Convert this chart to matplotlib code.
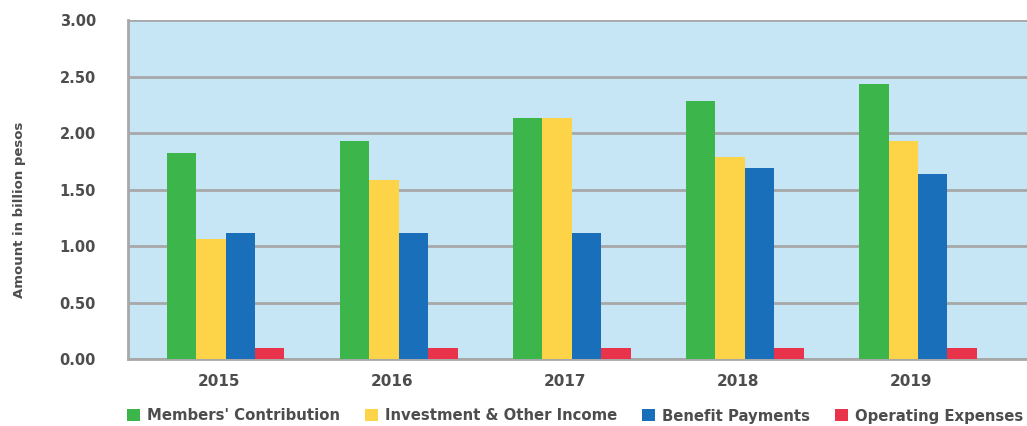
import numpy as np
import matplotlib
matplotlib.use("Agg")
from matplotlib import pyplot as plt
from matplotlib.patches import Patch


years        = ['2015', '2016', '2017', '2018', '2019']
contribution = [1.83, 1.93, 2.14, 2.29, 2.44]
investment   = [1.06, 1.59, 2.14, 1.79, 1.93]
benefits     = [1.12, 1.12, 1.12, 1.69, 1.64]
expenses     = [0.10, 0.10, 0.10, 0.10, 0.10]

series_names = ["Members' Contribution", "Investment & Other Income",
                "Benefit Payments", "Operating Expenses"]
colors       = ['#3cb54a', '#fdd347', '#1a6fba', '#e8334a']

txt_col = '#4d4d4d'
plt.rcParams['font.family'] = ['DejaVu Sans']

fig = plt.figure(figsize=(10.27, 4.26), dpi=100)
ax  = fig.add_axes([0.1246, 0.157, 0.8754, 0.795])
ax.set_facecolor('#c6e6f5')

x  = np.arange(len(years))
bw = 0.17
for k, vals in enumerate([contribution, investment, benefits, expenses]):
    ax.bar(x + (k - 1.5) * bw, vals, width=bw, color=colors[k], zorder=3)

ax.set_ylim(0, 3.0)
ax.set_xlim(-0.564, 4.63)
ax.set_yticks(np.arange(0, 3.01, 0.5))
ax.set_yticklabels(['%.2f' % v for v in np.arange(0, 3.01, 0.5)],
                   fontsize=10.5, color=txt_col, fontweight='bold')
ax.set_xticks(x - 0.04)
ax.set_xticklabels(years, fontsize=11, color=txt_col, fontweight='bold')
ax.tick_params(axis='y', length=0, pad=23)
ax.tick_params(axis='x', length=0, pad=11)

ax.grid(axis='y', color='#a8a8a8', linewidth=2, zorder=1)
for s in ['top', 'right']:
    ax.spines[s].set_visible(False)
ax.spines['left'].set_color('#a8a8a8')
ax.spines['left'].set_linewidth(2)
ax.spines['bottom'].set_color('#a8a8a8')
ax.spines['bottom'].set_linewidth(2)

fig.text(20 / 1027, (426 - 210) / 426, 'Amount in billion pesos',
         rotation=90, ha='center', va='center', fontsize=9.5,
         color=txt_col, fontweight='bold')

handles = [Patch(facecolor=c) for c in colors]
leg = fig.legend(handles, series_names, loc='center left',
                 bbox_to_anchor=(114 / 1027, 10 / 426), ncol=4, frameon=False,
                 handlelength=0.85, handleheight=0.85, handletextpad=0.45,
                 columnspacing=1.72, prop={'size': 10.7, 'weight': 'bold'})
for t in leg.get_texts():
    t.set_color(txt_col)

fig.savefig('out.png', dpi=100, facecolor='white')
